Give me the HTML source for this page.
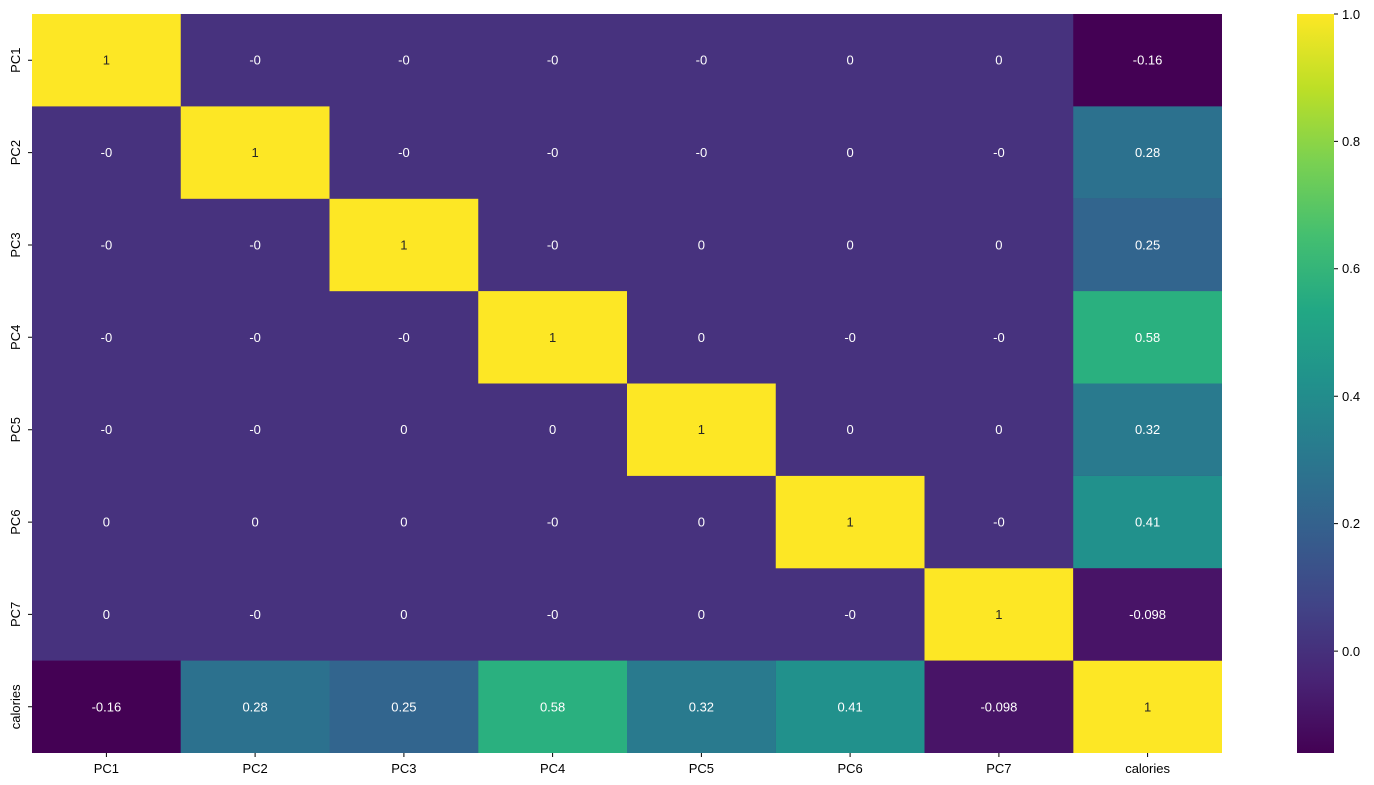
<!DOCTYPE html>
<html><head><style>body{margin:0;background:#fff}svg{display:block}text{font-family:"Liberation Sans","DejaVu Sans",sans-serif;font-size:13px}</style></head><body>
<svg width="1374" height="785" xmlns="http://www.w3.org/2000/svg">
<defs><linearGradient id="v" x1="0" y1="1" x2="0" y2="0">
<stop offset="0" stop-color="#440154"/><stop offset="0.1" stop-color="#482475"/><stop offset="0.2" stop-color="#414487"/><stop offset="0.3" stop-color="#355f8d"/><stop offset="0.4" stop-color="#2a788e"/><stop offset="0.5" stop-color="#21918c"/><stop offset="0.6" stop-color="#22a884"/><stop offset="0.7" stop-color="#44bf70"/><stop offset="0.8" stop-color="#7ad151"/><stop offset="0.9" stop-color="#bddf26"/><stop offset="1" stop-color="#fde725"/>
</linearGradient></defs>
<rect x="32" y="14" width="1190" height="739" fill="#47327e"/>
<g fill="#fde725">
<rect x="32" y="14" width="148.75" height="92.4"/>
<rect x="180.75" y="106.4" width="148.75" height="92.4"/>
<rect x="329.5" y="198.8" width="148.75" height="92.4"/>
<rect x="478.25" y="291.1" width="148.75" height="92.4"/>
<rect x="627" y="383.5" width="148.75" height="92.4"/>
<rect x="775.75" y="475.9" width="148.75" height="92.4"/>
<rect x="924.5" y="568.3" width="148.75" height="92.4"/>
<rect x="1073.25" y="660.6" width="148.75" height="92.4"/>
</g>
<rect x="1073.25" y="14" width="148.75" height="92.4" fill="#440154"/>
<rect x="1073.25" y="106.4" width="148.75" height="92.4" fill="#2c718e"/>
<rect x="1073.25" y="198.8" width="148.75" height="92.4" fill="#32658e"/>
<rect x="1073.25" y="291.1" width="148.75" height="92.4" fill="#2ab07f"/>
<rect x="1073.25" y="383.5" width="148.75" height="92.4" fill="#297a8e"/>
<rect x="1073.25" y="475.9" width="148.75" height="92.4" fill="#21918c"/>
<rect x="1073.25" y="568.3" width="148.75" height="92.4" fill="#481467"/>
<rect x="32" y="660.6" width="148.75" height="92.4" fill="#440154"/>
<rect x="180.75" y="660.6" width="148.75" height="92.4" fill="#2c718e"/>
<rect x="329.5" y="660.6" width="148.75" height="92.4" fill="#32658e"/>
<rect x="478.25" y="660.6" width="148.75" height="92.4" fill="#2ab07f"/>
<rect x="627" y="660.6" width="148.75" height="92.4" fill="#297a8e"/>
<rect x="775.75" y="660.6" width="148.75" height="92.4" fill="#21918c"/>
<rect x="924.5" y="660.6" width="148.75" height="92.4" fill="#481467"/>
<g text-anchor="middle" fill="#fff">
<text x="106.4" y="64.7" fill="#262626">1</text><text x="255.1" y="64.7">-0</text><text x="403.9" y="64.7">-0</text><text x="552.6" y="64.7">-0</text><text x="701.4" y="64.7">-0</text><text x="850.1" y="64.7">0</text><text x="998.9" y="64.7">0</text><text x="1147.6" y="64.7">-0.16</text>
<text x="106.4" y="157.1">-0</text><text x="255.1" y="157.1" fill="#262626">1</text><text x="403.9" y="157.1">-0</text><text x="552.6" y="157.1">-0</text><text x="701.4" y="157.1">-0</text><text x="850.1" y="157.1">0</text><text x="998.9" y="157.1">-0</text><text x="1147.6" y="157.1">0.28</text>
<text x="106.4" y="249.5">-0</text><text x="255.1" y="249.5">-0</text><text x="403.9" y="249.5" fill="#262626">1</text><text x="552.6" y="249.5">-0</text><text x="701.4" y="249.5">0</text><text x="850.1" y="249.5">0</text><text x="998.9" y="249.5">0</text><text x="1147.6" y="249.5">0.25</text>
<text x="106.4" y="341.8">-0</text><text x="255.1" y="341.8">-0</text><text x="403.9" y="341.8">-0</text><text x="552.6" y="341.8" fill="#262626">1</text><text x="701.4" y="341.8">0</text><text x="850.1" y="341.8">-0</text><text x="998.9" y="341.8">-0</text><text x="1147.6" y="341.8">0.58</text>
<text x="106.4" y="434.2">-0</text><text x="255.1" y="434.2">-0</text><text x="403.9" y="434.2">0</text><text x="552.6" y="434.2">0</text><text x="701.4" y="434.2" fill="#262626">1</text><text x="850.1" y="434.2">0</text><text x="998.9" y="434.2">0</text><text x="1147.6" y="434.2">0.32</text>
<text x="106.4" y="526.6">0</text><text x="255.1" y="526.6">0</text><text x="403.9" y="526.6">0</text><text x="552.6" y="526.6">-0</text><text x="701.4" y="526.6">0</text><text x="850.1" y="526.6" fill="#262626">1</text><text x="998.9" y="526.6">-0</text><text x="1147.6" y="526.6">0.41</text>
<text x="106.4" y="618.9">0</text><text x="255.1" y="618.9">-0</text><text x="403.9" y="618.9">0</text><text x="552.6" y="618.9">-0</text><text x="701.4" y="618.9">0</text><text x="850.1" y="618.9">-0</text><text x="998.9" y="618.9" fill="#262626">1</text><text x="1147.6" y="618.9">-0.098</text>
<text x="106.4" y="711.3">-0.16</text><text x="255.1" y="711.3">0.28</text><text x="403.9" y="711.3">0.25</text><text x="552.6" y="711.3">0.58</text><text x="701.4" y="711.3">0.32</text><text x="850.1" y="711.3">0.41</text><text x="998.9" y="711.3">-0.098</text><text x="1147.6" y="711.3" fill="#262626">1</text>
</g>
<g stroke="#000" stroke-width="1">
<path d="M106.4 753v4M255.1 753v4M403.9 753v4M552.6 753v4M701.4 753v4M850.1 753v4M998.9 753v4M1147.6 753v4"/>
<path d="M32 60.2h-4M32 152.6h-4M32 245h-4M32 337.3h-4M32 429.7h-4M32 522.1h-4M32 614.4h-4M32 706.8h-4"/>
<path d="M1334 14h4M1334 141.4h4M1334 268.8h4M1334 396.2h4M1334 523.6h4M1334 651.1h4"/>
</g>
<g text-anchor="middle" fill="#000">
<text x="106.4" y="773">PC1</text><text x="255.1" y="773">PC2</text><text x="403.9" y="773">PC3</text><text x="552.6" y="773">PC4</text><text x="701.4" y="773">PC5</text><text x="850.1" y="773">PC6</text><text x="998.9" y="773">PC7</text><text x="1147.6" y="773">calories</text>
<text transform="translate(20,60.2) rotate(-90)">PC1</text>
<text transform="translate(20,152.6) rotate(-90)">PC2</text>
<text transform="translate(20,245) rotate(-90)">PC3</text>
<text transform="translate(20,337.3) rotate(-90)">PC4</text>
<text transform="translate(20,429.7) rotate(-90)">PC5</text>
<text transform="translate(20,522.1) rotate(-90)">PC6</text>
<text transform="translate(20,614.4) rotate(-90)">PC7</text>
<text transform="translate(20,706.8) rotate(-90)">calories</text>
</g>
<rect x="1297" y="14" width="37" height="739" fill="url(#v)"/>
<g fill="#000">
<text x="1342" y="19">1.0</text><text x="1342" y="146">0.8</text><text x="1342" y="273">0.6</text><text x="1342" y="401">0.4</text><text x="1342" y="528">0.2</text><text x="1342" y="656">0.0</text>
</g>
</svg>
</body></html>
